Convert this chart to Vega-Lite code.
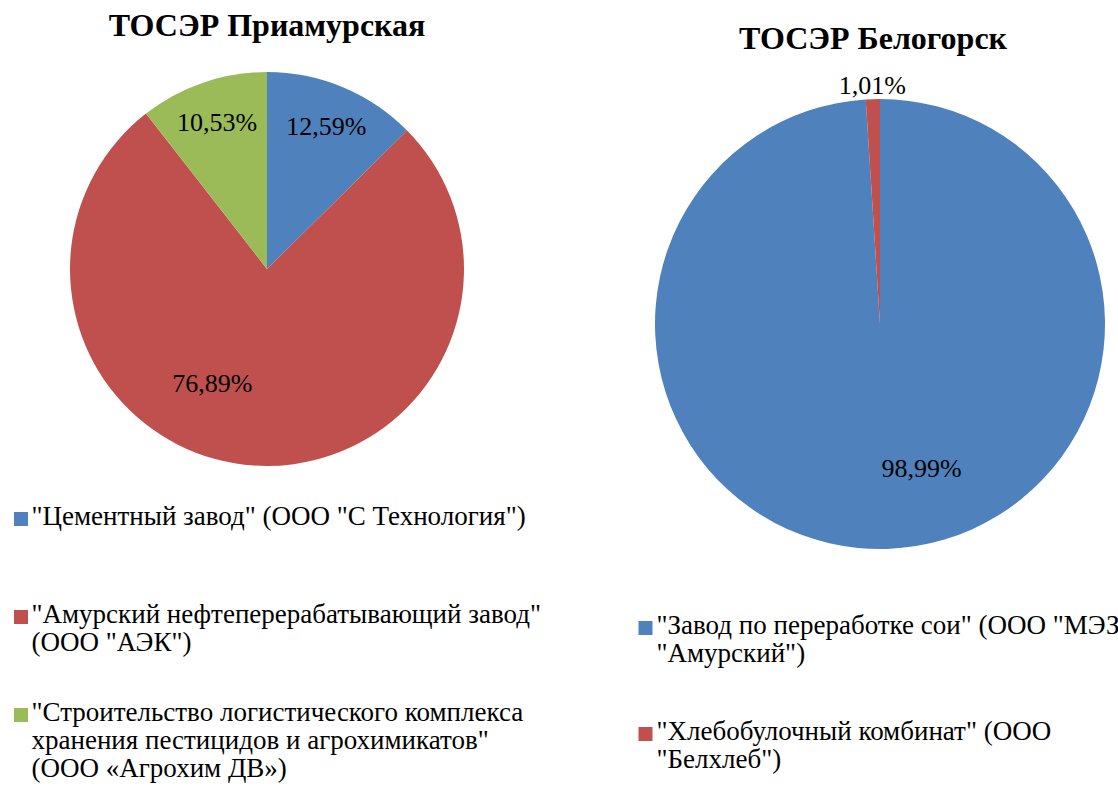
{
  "$schema": "https://vega.github.io/schema/vega-lite/v6.json",
  "padding": {"left": 0, "top": 10, "right": 0, "bottom": 0},
  "background": "white",
  "config": {
    "view": {"stroke": null},
    "font": "Liberation Serif",
    "locale": {"number": {"decimal": ",", "thousands": " ", "grouping": [3], "currency": ["", " ₽"]}},
    "title": {"font": "Liberation Serif", "fontSize": 32, "fontWeight": "bold", "color": "#000000", "anchor": "middle"}
  },
  "hconcat": [
    {
      "title": {"text": "ТОСЭР Приамурская", "offset": 29},
      "width": 534,
      "height": 394,
      "data": {"values": [
        {"name": "\"Цементный завод\" (ООО \"С Технология\")", "n": 1, "share": 0.1259},
        {"name": "\"Амурский нефтеперерабатывающий завод\"|(ООО \"АЭК\")", "n": 2, "share": 0.7689},
        {"name": "\"Строительство логистического комплекса|хранения пестицидов и агрохимикатов\"|(ООО «Агрохим ДВ»)", "n": 3, "share": 0.1053}
      ]},
      "encoding": {
        "theta": {"field": "share", "type": "quantitative", "stack": true},
        "order": {"field": "n", "type": "quantitative"}
      },
      "layer": [
        {
          "mark": {"type": "arc", "outerRadius": 197},
          "encoding": {
            "color": {
              "field": "name", "type": "nominal", "sort": null,
              "scale": {"range": ["#4F81BD", "#C0504D", "#9BBB59"]},
              "legend": {
                "title": null, "orient": "none", "legendX": 7.5, "legendY": 433.5,
                "direction": "vertical", "columns": 1, "gridAlign": "all", "rowPadding": 14,
                "symbolType": "square", "symbolSize": 196, "symbolStrokeWidth": 0,
                "labelFont": "Liberation Serif", "labelFontSize": 27, "labelColor": "#000000",
                "labelLimit": 0, "labelOffset": -3, "labelBaseline": "top",
                "labelExpr": "split(datum.label, '|')",
                "encode": {"labels": {"update": {"dy": {"value": -15}, "lineHeight": {"value": 28}}}}
              }
            }
          }
        },
        {
          "mark": {"type": "text", "radius": 154, "fontSize": 26, "font": "Liberation Serif", "color": "#000000"},
          "encoding": {
            "text": {"field": "share", "type": "quantitative", "format": ".2%"},
            "opacity": {"condition": {"test": "datum.share < 0.5", "value": 1}, "value": 0}
          }
        },
        {
          "mark": {"type": "text", "radius": 127, "thetaOffset": 0.38, "fontSize": 26, "font": "Liberation Serif", "color": "#000000"},
          "encoding": {
            "text": {"field": "share", "type": "quantitative", "format": ".2%"},
            "opacity": {"condition": {"test": "datum.share > 0.5", "value": 1}, "value": 0}
          }
        }
      ]
    },
    {
      "title": {"text": "ТОСЭР Белогорск", "offset": 16, "dx": -7},
      "width": 450,
      "height": 504,
      "data": {"values": [
        {"name": "\"Завод по переработке сои\" (ООО \"МЭЗ|\"Амурский\")", "n": 1, "share": 0.9899},
        {"name": "\"Хлебобулочный комбинат\" (ООО|\"Белхлеб\")", "n": 2, "share": 0.0101}
      ]},
      "encoding": {
        "theta": {"field": "share", "type": "quantitative", "stack": true},
        "order": {"field": "n", "type": "quantitative"}
      },
      "layer": [
        {
          "mark": {"type": "arc", "outerRadius": 225},
          "encoding": {
            "color": {
              "field": "name", "type": "nominal", "sort": null,
              "scale": {"range": ["#4F81BD", "#C0504D"]},
              "legend": {
                "title": null, "orient": "none", "legendX": -23, "legendY": 542.5,
                "direction": "vertical", "columns": 1, "gridAlign": "all", "rowPadding": 50,
                "symbolType": "square", "symbolSize": 196, "symbolStrokeWidth": 0,
                "labelFont": "Liberation Serif", "labelFontSize": 27, "labelColor": "#000000",
                "labelLimit": 0, "labelOffset": -2.5, "labelBaseline": "top",
                "labelExpr": "split(datum.label, '|')",
                "encode": {"labels": {"update": {"dy": {"value": -15}, "lineHeight": {"value": 28}}}}
              }
            }
          }
        },
        {
          "mark": {"type": "text", "radius": 151, "thetaOffset": -0.248, "fontSize": 26, "font": "Liberation Serif", "color": "#000000"},
          "encoding": {
            "text": {"field": "share", "type": "quantitative", "format": ".2%"},
            "opacity": {"condition": {"test": "datum.share > 0.5", "value": 1}, "value": 0}
          }
        },
        {
          "mark": {"type": "text", "radius": 238, "fontSize": 26, "font": "Liberation Serif", "color": "#000000"},
          "encoding": {
            "text": {"field": "share", "type": "quantitative", "format": ".2%"},
            "opacity": {"condition": {"test": "datum.share < 0.5", "value": 1}, "value": 0}
          }
        }
      ]
    }
  ],
  "spacing": 121,
  "bounds": "flush",
  "resolve": {"scale": {"color": "independent", "theta": "independent"}, "legend": {"color": "independent"}}
}
